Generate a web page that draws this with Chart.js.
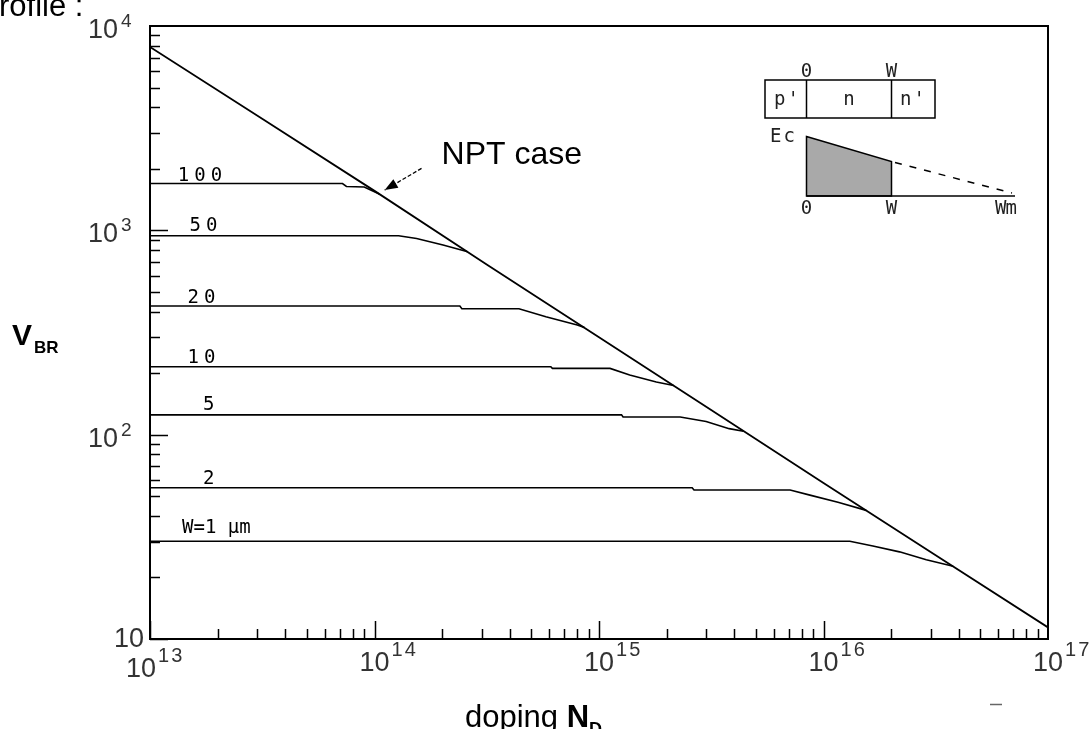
<!DOCTYPE html>
<html><head><meta charset="utf-8">
<script src="https://cdn.jsdelivr.net/npm/chart.js@4/dist/chart.umd.min.js"></script>
<style>html,body{margin:0;padding:0;background:#fff;}canvas{display:block}</style>
</head><body>
<canvas id="c" width="1091" height="729"></canvas>
<script>
// ---- axis ranges & tick labels ----
const xMin = 1e13, xMax = 1e17, yMin = 10, yMax = 1e4;
const xDecades = [1e13, 1e14, 1e15, 1e16, 1e17];
const xDecadeExponents = ['13', '14', '15', '16', '17'];
const yDecades = [10, 100, 1000, 10000];
const yDecadeExponents = ['', '2', '3', '4'];

// ---- NPT (non punch-through) line ----
const nptDoping = [1e13, 3.16e13, 1e14, 3.16e14, 1e15, 3.16e15, 1e16, 3.16e16, 1e17];
const nptVbr    = [7900, 3520, 1560, 680, 300, 132, 58, 25.7, 11.4];

// ---- punch-through curves, W in µm ----
const w100Doping = [1e13, 7.2e13, 7.5e13, 9e13, 1.05e14];
const w100Vbr    = [1694, 1694, 1640, 1630, 1506];
const w50Doping  = [1e13, 1.28e14, 1.54e14, 2.02e14, 2.6e14];
const w50Vbr     = [940, 940, 912, 847, 785];
const w20Doping  = [1e13, 2.4e14, 2.45e14, 4.4e14, 5.8e14, 8e14, 8.6e14];
const w20Vbr     = [426, 426, 413, 413, 378, 344, 335];
const w10Doping  = [1e13, 6.1e14, 6.2e14, 1.12e15, 1.37e15, 1.8e15, 2.15e15];
const w10Vbr     = [215, 215, 211, 211, 196, 181, 174];
const w5Doping   = [1e13, 1.26e15, 1.28e15, 2.3e15, 3.0e15, 3.8e15, 4.4e15];
const w5Vbr      = [125, 125, 122, 122, 116, 107, 104];
const w2Doping   = [1e13, 2.6e15, 2.65e15, 7.1e15, 8.7e15, 1.16e16, 1.55e16];
const w2Vbr      = [55, 55, 53.6, 53.6, 50.6, 46.7, 42.6];
const w1Doping   = [1e13, 1.31e16, 1.66e16, 2.18e16, 2.87e16, 3.78e16];
const w1Vbr      = [30.1, 30.1, 28.5, 26.7, 24.4, 22.7];

const curveLabels  = ['100', '50', '20', '10', '5', '2', 'W=1 µm'];
const curveLabelAt = [1.33e13, 1.5e13, 1.47e13, 1.47e13, 1.72e13, 1.72e13, 1.39e13];
const curveFlatV   = [1694, 940, 426, 215, 125, 55, 30.1];

// annotation (data coordinates)
const nptLabel = 'NPT case';
const nptLabelPos = {x: 1.99e14, y: 2101};
const nptArrowTail = {x: 1.62e14, y: 2010};
const nptArrowTip  = {x: 1.11e14, y: 1574};

// ---- styles (not data) ----
const labelLift = [3, 5, 3, 4, 5, 4, 8];
const sans = '"Liberation Sans", Arial, Helvetica, sans-serif';
const mono = '"DejaVu Sans Mono", monospace';

const mk = (xs, ys, w) => ({
  data: xs.map((x, i) => ({x, y: ys[i]})),
  borderColor: '#000', borderWidth: w, pointRadius: 0, fill: false, tension: 0
});

const deco = {
  id: 'deco',
  afterDraw(chart) {
    const {ctx, chartArea: a, scales: {x, y}} = chart;
    ctx.save();
    ctx.strokeStyle = '#000';
    ctx.fillStyle = '#000';
    // box
    ctx.lineWidth = 2;
    ctx.strokeRect(a.left, a.top, a.right - a.left, a.bottom - a.top);
    // inward ticks
    ctx.lineWidth = 1.5;
    ctx.beginPath();
    for (let d = 13; d < 17; d++) for (let k = 1; k <= 9; k++) {
      const v = k * Math.pow(10, d);
      const px = Math.round(x.getPixelForValue(v)) + 0.5;
      const len = k === 1 ? 18 : 10;
      ctx.moveTo(px, a.bottom); ctx.lineTo(px, a.bottom - len);
    }
    for (let d = 1; d < 4; d++) for (let k = 1; k <= 9; k++) {
      const v = k * Math.pow(10, d);
      const py = Math.round(y.getPixelForValue(v)) + 0.5;
      const len = k === 1 ? 18 : 10;
      ctx.moveTo(a.left, py); ctx.lineTo(a.left + len, py);
    }
    ctx.stroke();

    // x tick labels
    ctx.fillStyle = '#333';
    xDecades.forEach((v, i) => {
      const px = x.getPixelForValue(v) + (i === 0 ? -9 : 0);
      const base = a.bottom + (i === 0 ? 38 : 32);
      ctx.font = '27px ' + sans;
      ctx.textAlign = 'center'; ctx.textBaseline = 'alphabetic';
      ctx.letterSpacing = '0px';
      ctx.fillText('10', px, base);
      const w = ctx.measureText('10').width;
      ctx.font = '20px ' + sans;
      ctx.textAlign = 'left';
      ctx.letterSpacing = '2px';
      ctx.fillText(xDecadeExponents[i], px + w / 2 + 2, base - 15);
    });
    // y tick labels
    yDecades.forEach((v, i) => {
      const py = y.getPixelForValue(v);
      ctx.letterSpacing = '0px';
      ctx.font = '27px ' + sans;
      ctx.textAlign = 'right';
      if (yDecadeExponents[i] === '') {
        ctx.fillText('10', a.left - 6, py + 8);
      } else {
        ctx.fillText('10', a.left - 32, py + 12);
        ctx.font = '19px ' + sans;
        ctx.textAlign = 'left';
        ctx.fillText(yDecadeExponents[i], a.left - 29, py + 1);
      }
    });

    // curve labels
    ctx.fillStyle = '#000';
    ctx.font = '19px ' + mono;
    ctx.textAlign = 'left';
    curveLabels.forEach((t, i) => {
      ctx.letterSpacing = t.length > 3 ? '0px' : '5px';
      ctx.fillText(t, x.getPixelForValue(curveLabelAt[i]), y.getPixelForValue(curveFlatV[i]) - labelLift[i]);
    });
    ctx.letterSpacing = '0px';

    // NPT annotation
    const tx = x.getPixelForValue(nptArrowTail.x), ty = y.getPixelForValue(nptArrowTail.y);
    const hx = x.getPixelForValue(nptArrowTip.x), hy = y.getPixelForValue(nptArrowTip.y);
    ctx.strokeStyle = '#000'; ctx.fillStyle = '#000';
    ctx.lineWidth = 1.3; ctx.setLineDash([4, 2]);
    ctx.beginPath(); ctx.moveTo(tx, ty); ctx.lineTo(hx, hy); ctx.stroke();
    ctx.setLineDash([]);
    const ang = Math.atan2(hy - ty, hx - tx), L = 13, H = 5;
    ctx.beginPath();
    ctx.moveTo(hx, hy);
    ctx.lineTo(hx - L * Math.cos(ang) + H * Math.sin(ang), hy - L * Math.sin(ang) - H * Math.cos(ang));
    ctx.lineTo(hx - L * Math.cos(ang) - H * Math.sin(ang), hy - L * Math.sin(ang) + H * Math.cos(ang));
    ctx.closePath(); ctx.fill();
    ctx.font = '32px ' + sans; ctx.textAlign = 'left';
    ctx.fillText(nptLabel, x.getPixelForValue(nptLabelPos.x), y.getPixelForValue(nptLabelPos.y));

    // axis titles
    ctx.fillStyle = '#000';
    ctx.font = 'bold 30px ' + sans;
    ctx.fillText('V', 12, 345);
    ctx.font = 'bold 17px ' + sans;
    ctx.fillText('BR', 34, 353);
    ctx.font = '31px ' + sans;
    ctx.fillText('doping ', 465, 727);
    const dw = ctx.measureText('doping ').width;
    ctx.font = 'bold 31px ' + sans;
    ctx.fillText('N', 465 + dw, 727);
    const nw = ctx.measureText('N').width;
    ctx.font = 'bold 18px ' + sans;
    ctx.fillText('D', 465 + dw + nw, 735);
    // heading fragment
    ctx.font = '31px ' + sans;
    ctx.fillText('rofile :', -1, 16);
    // stray mark
    ctx.strokeStyle = '#666'; ctx.lineWidth = 1.5;
    ctx.beginPath(); ctx.moveTo(990, 704.5); ctx.lineTo(1002, 704.5); ctx.stroke();

    // inset schematic
    ctx.strokeStyle = '#000'; ctx.lineWidth = 1.5;
    ctx.strokeRect(765, 80, 170, 38);
    ctx.beginPath();
    ctx.moveTo(806.5, 80); ctx.lineTo(806.5, 118);
    ctx.moveTo(891.5, 80); ctx.lineTo(891.5, 118);
    ctx.stroke();
    ctx.fillStyle = '#a9a9a9';
    ctx.beginPath();
    ctx.moveTo(806.5, 136.5); ctx.lineTo(891.5, 161.5); ctx.lineTo(891.5, 196); ctx.lineTo(806.5, 196); ctx.closePath();
    ctx.fill(); ctx.stroke();
    ctx.beginPath(); ctx.moveTo(806.5, 196); ctx.lineTo(1015, 196); ctx.stroke();
    ctx.setLineDash([7, 8]);
    ctx.beginPath(); ctx.moveTo(895, 162.5); ctx.lineTo(1012, 193); ctx.stroke();
    ctx.setLineDash([]);
    ctx.fillStyle = '#222';
    ctx.font = '19px ' + mono;
    ctx.textAlign = 'center';
    ctx.fillText('0', 806.5, 77); ctx.fillText('W', 891.5, 77);
    ctx.fillText('n', 849, 105);
    ctx.fillText('0', 806.5, 214); ctx.fillText('W', 891.5, 214);
    ctx.textAlign = 'left';
    ctx.letterSpacing = '2px';
    ctx.fillText("p'", 774, 105); ctx.fillText("n'", 900, 105);
    ctx.fillText('Ec', 770, 142);
    ctx.letterSpacing = '-1px';
    ctx.fillText('Wm', 995, 214);
    ctx.restore();
  }
};

new Chart(document.getElementById('c'), {
  type: 'line',
  data: {
    datasets: [
      mk(nptDoping, nptVbr, 1.8),
      mk(w100Doping, w100Vbr, 1.6),
      mk(w50Doping, w50Vbr, 1.6),
      mk(w20Doping, w20Vbr, 1.6),
      mk(w10Doping, w10Vbr, 1.6),
      mk(w5Doping, w5Vbr, 1.6),
      mk(w2Doping, w2Vbr, 1.6),
      mk(w1Doping, w1Vbr, 1.6)
    ]
  },
  options: {
    responsive: false, animation: false,
    layout: {padding: {left: 150, right: 43, top: 26, bottom: 90}},
    plugins: {legend: {display: false}, tooltip: {enabled: false}},
    scales: {
      x: {type: 'logarithmic', min: xMin, max: xMax,
          ticks: {display: false}, grid: {display: false, drawTicks: false}, border: {display: false}},
      y: {type: 'logarithmic', min: yMin, max: yMax,
          ticks: {display: false}, grid: {display: false, drawTicks: false}, border: {display: false}}
    }
  },
  plugins: [deco]
});
</script>
</body></html>
